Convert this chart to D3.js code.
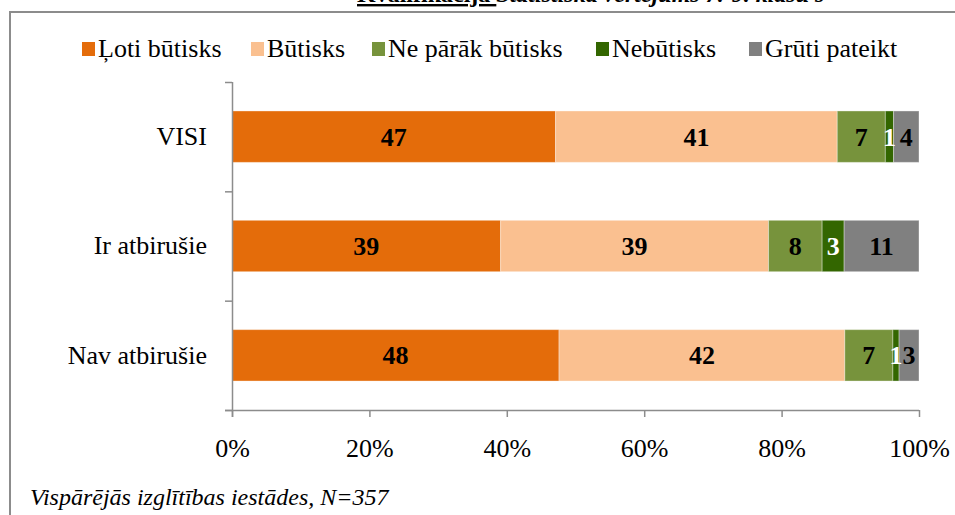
<!DOCTYPE html>
<html>
<head>
<meta charset="utf-8">
<script src="https://cdn.jsdelivr.net/npm/d3@7"></script>
<style>
  html, body { margin: 0; padding: 0; background: #fff; overflow: hidden; }
  svg text { font-family: "Liberation Serif", serif; }
</style>
</head>
<body>
<div id="chart"></div>
<script>
// categories and answer options
var categories = ["VISI", "Ir atbirušie", "Nav atbirušie"];
var seriesNames = ["Ļoti būtisks", "Būtisks", "Ne pārāk būtisks", "Nebūtisks", "Grūti pateikt"];
var seriesColors = ["#E46C0A", "#FAC090", "#77933C", "#336600", "#808080"];

// share of answers (%), per series, in category order
var lotiButisks = [47.1, 39.1, 47.6];
var butisks = [41.0, 39.0, 41.6];
var neParakButisks = [7.0, 7.8, 7.0];
var nebutisks = [1.2, 3.2, 0.9];
var grutiPateikt = [3.7, 10.9, 2.9];
// printed labels
var labelsShown = [
  [47, 39, 48],
  [41, 39, 42],
  [7, 8, 7],
  [1, 3, 1],
  [4, 11, 3]
];
var xTicks = [0, 20, 40, 60, 80, 100];

var seriesValues = [lotiButisks, butisks, neParakButisks, nebutisks, grutiPateikt];

var width = 955, height = 515;
var serif = "Liberation Serif, serif";

var svg = d3.select("#chart").append("svg")
    .attr("width", width)
    .attr("height", height);

// heading of the page, cut off above the chart
var head = svg.append("text")
    .attr("x", 357)
    .attr("y", 2)
    .attr("font-family", serif)
    .attr("font-size", 24)
    .attr("font-weight", "bold");
head.append("tspan")
    .attr("text-decoration", "underline")
    .text("Kvalifikācija ");
head.append("tspan")
    .attr("font-style", "italic")
    .text(" Statistiskā vērtējums 7.-9. klašu s");

// chart frame
svg.append("path")
    .attr("d", "M10,515 V12 H955")
    .attr("fill", "none")
    .attr("stroke", "#8c8c8c")
    .attr("stroke-width", 2);

var x = d3.scaleLinear().domain([0, 100]).range([232, 919]);
var y = d3.scaleBand().domain(categories).range([82, 410])
    .paddingInner(0.53).paddingOuter(0.265);

// stacked rows
var rows = categories.map(function (c, i) {
    var r = { cat: c };
    seriesNames.forEach(function (s, j) { r[s] = seriesValues[j][i]; });
    return r;
});
var stacked = d3.stack().keys(seriesNames)(rows);

var layers = svg.selectAll("g.layer")
    .data(stacked)
    .enter().append("g")
    .attr("class", "layer")
    .attr("fill", function (d, i) { return seriesColors[i]; });

layers.selectAll("rect")
    .data(function (d) { return d; })
    .enter().append("rect")
    .attr("x", function (d) { return x(d[0]); })
    .attr("y", function (d) { return y(d.data.cat); })
    .attr("width", function (d) { return x(d[1]) - x(d[0]); })
    .attr("height", y.bandwidth())
    .attr("stroke", "rgba(255,255,255,0.35)")
    .attr("stroke-width", 1);

// value labels
stacked.forEach(function (layer, j) {
    svg.append("g").selectAll("text")
        .data(layer)
        .enter().append("text")
        .attr("x", function (d) { return (x(d[0]) + x(d[1])) / 2; })
        .attr("y", function (d) { return y(d.data.cat) + y.bandwidth() / 2; })
        .attr("dy", "0.35em")
        .attr("text-anchor", "middle")
        .attr("font-family", serif)
        .attr("font-size", 26)
        .attr("font-weight", "bold")
        .attr("fill", j === 3 ? "#fff" : "#000")
        .text(function (d, i) { return labelsShown[j][i]; });
});

// x axis
var xAxis = d3.axisBottom(x)
    .tickValues(xTicks)
    .tickSize(7)
    .tickPadding(22)
    .tickFormat(function (d) { return d + "%"; });

var gx = svg.append("g")
    .attr("transform", "translate(0,410)")
    .call(xAxis);
gx.select(".domain").attr("d", "M225,0.5H919");

// y axis: boundary ticks
var yEdge = d3.scaleLinear().domain([0, 3]).range([82, 410]);
var gyTicks = svg.append("g")
    .attr("transform", "translate(232,0)")
    .call(d3.axisLeft(yEdge).tickValues([0, 1, 2, 3]).tickSize(7).tickFormat(""));
gyTicks.select(".domain").attr("d", "M0.5,82V417");

// y axis: category labels
var gy = svg.append("g")
    .attr("transform", "translate(232,0)")
    .call(d3.axisLeft(y).tickSize(0).tickPadding(25));
gy.select(".domain").remove();

svg.selectAll(".tick line, .domain")
    .attr("stroke", "#8c8c8c")
    .attr("stroke-width", 1.5);
svg.selectAll("g").attr("font-family", serif);
svg.selectAll(".tick text")
    .attr("font-family", serif)
    .attr("font-size", 26)
    .attr("fill", "#000");

// legend
var legendX = [82, 251, 372, 596, 749];
var legend = svg.append("g").selectAll("g")
    .data(seriesNames)
    .enter().append("g")
    .attr("transform", function (d, i) { return "translate(" + legendX[i] + ",0)"; });
legend.append("rect")
    .attr("x", 0).attr("y", 42)
    .attr("width", 13).attr("height", 14)
    .attr("fill", function (d, i) { return seriesColors[i]; });
legend.append("text")
    .attr("x", 16).attr("y", 57)
    .attr("font-family", serif)
    .attr("font-size", 26)
    .text(function (d) { return d; });

// footnote
svg.append("text")
    .attr("x", 30).attr("y", 505)
    .attr("font-family", serif)
    .attr("font-size", 24)
    .attr("font-style", "italic")
    .text("Vispārējās izglītības  iestādes, N=357");
</script>
</body>
</html>
